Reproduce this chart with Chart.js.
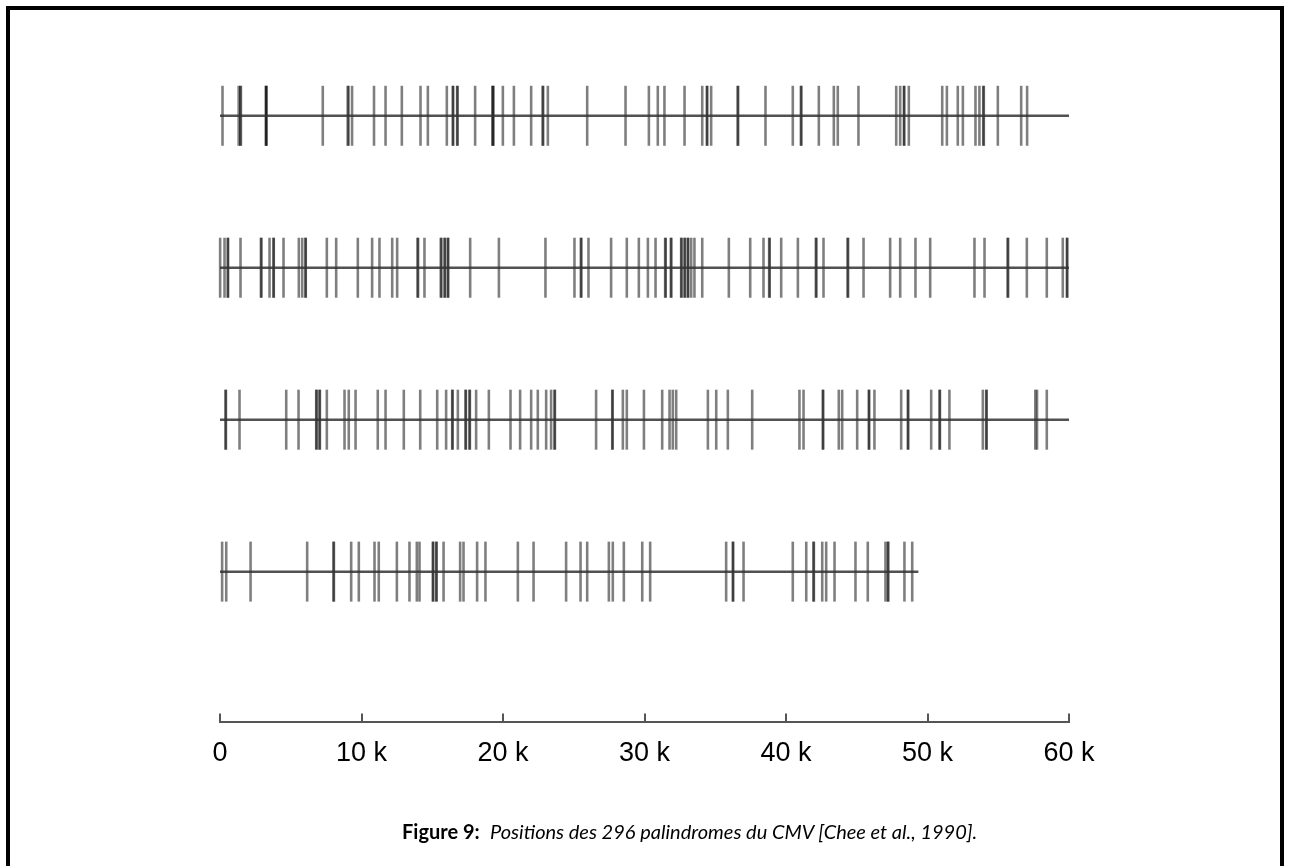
<!DOCTYPE html>
<html>
<head>
<meta charset="utf-8">
<title>Palindromes du CMV</title>
<script src="https://cdn.jsdelivr.net/npm/chart.js@4/dist/chart.umd.min.js"></script>
<style>
  html, body { margin: 0; padding: 0; background: #fff; overflow: hidden; }
  #page { position: relative; width: 1289px; height: 866px; }
  #frame {
    position: absolute; left: 6px; top: 6px; width: 1270px; height: 900px;
    border: 4px solid #000; border-bottom: none;
  }
  #wrap { position: absolute; left: 0; top: 0; width: 1289px; height: 866px; }
  #chart { filter: blur(0.5px); }
  #caption {
    position: absolute; left: 402px; top: 819px; white-space: nowrap;
    font-family: "Lato", "DejaVu Sans", sans-serif; font-size: 20px; color: #000;
  }
  #caption b { font-weight: bold; }
  #caption i { font-style: italic; }
</style>
</head>
<body>
<div id="page">
  <div id="frame"></div>
  <div id="wrap"><canvas id="chart" width="1289" height="866"></canvas></div>
  <div id="caption"><b>Figure 9:</b>&nbsp; <i>Positions des 296 palindromes du CMV [Chee et al., 1990].</i></div>
</div>
<script>
// Genome of the CMV, cut into segments of 60 kb, one segment per row.
const genomeLength = 229354;
const rowStarts = [0, 60000, 120000, 180000];
const tickValues = [0, 10000, 20000, 30000, 40000, 50000, 60000];
const tickLabels = ['0', '10 k', '20 k', '30 k', '40 k', '50 k', '60 k'];

// Palindrome positions (bp) on each segment.
const row1 = [
  177, 1321, 1433, 1477, 3248, 3255, 3286, 7263, 9023, 9084, 9333, 10884,
  11700, 12850, 14170, 14690, 16030, 16450, 16480, 16760, 16790, 18030,
  19250, 19290, 19320, 19990, 20770, 21990, 22800, 22840, 23170, 25950,
  28660, 30310, 30940, 31410, 32830, 34080, 34410, 34430, 34710, 36580,
  36620, 38550, 40480, 41050, 41090, 42320, 43380, 43660, 45120, 47790,
  48070, 48330, 48360, 48680, 51040, 51370, 52140, 52500, 53390, 53670,
  53940, 53980, 54970, 56620, 57040
];
const row2 = [
  60010, 60320, 60550, 60570, 61450, 62890, 62930, 63500, 63780, 63800,
  64490, 65570, 65810, 66040, 66060, 67550, 68210, 69740, 70750, 71270,
  72170, 72520, 73960, 74000, 74450, 75600, 75650, 75870, 75900, 76100,
  76130, 77680, 79710, 83000, 85050, 85500, 85540, 86040, 87640, 88750,
  89600, 90240, 90780, 91460, 91500, 91860, 91900, 92590, 92620, 92830,
  92860, 93060, 93090, 93300, 93530, 94080, 95960, 97470, 98410, 98810,
  98850, 99660, 100840, 102110, 102150, 102650, 104350, 104390, 105480,
  107360, 108070, 109150, 110190, 113320, 114030, 115660, 115700, 117020,
  118430, 119560, 119850, 119880
];
const row3 = [
  120390, 120420, 121380, 124680, 125550, 126800, 126830, 127030, 127060,
  127550, 128800, 129100, 129580, 131150, 131700, 132990, 134150, 135350,
  135980, 136410, 136440, 136810, 137350, 137380, 137630, 137660, 138100,
  139000, 140530, 141210, 141990, 142460, 143050, 143400, 143640, 143670,
  146580, 147720, 147750, 148470, 148750, 149960, 151250, 151770, 152000,
  152240, 154480, 155070, 155890, 157610, 160950, 161240, 162600, 162630,
  163730, 163970, 165030, 165850, 165880, 166250, 168140, 168610, 168640,
  170260, 170850, 170880, 171550, 173910, 174150, 174180, 177620, 177740,
  178430
];
const row4 = [
  180150, 180440, 182160, 186160, 188020, 188050, 189270, 189810, 190920,
  191220, 192500, 193390, 193910, 194100, 195040, 195070, 195280, 195310,
  195800, 196970, 197210, 198170, 198760, 201050, 202160, 204460, 205480,
  205950, 207480, 207760, 208540, 209840, 210400, 215770, 216240, 216270,
  217000, 220480, 221430, 221940, 221970, 222560, 222840, 223430, 224910,
  225780, 227030, 227200, 227230, 228370, 228920
];
const rows = [row1, row2, row3, row4];

const datasets = [];
rows.forEach((positions, r) => {
  const start = rowStarts[r];
  const end = Math.min(60000, genomeLength - start);
  // horizontal strand of the segment
  datasets.push({
    type: 'line',
    data: [{ x: 0, y: r }, { x: end, y: r }],
    borderColor: 'rgba(50,50,50,0.85)',
    borderWidth: 2.5,
    pointRadius: 0,
    clip: false
  });
  // one vertical stroke per palindrome
  datasets.push({
    type: 'scatter',
    data: positions.map(p => ({ x: p - start, y: r })),
    pointStyle: 'line',
    rotation: 90,
    radius: 30,
    borderWidth: 2.6,
    borderColor: 'rgba(0,0,0,0.5)',
    backgroundColor: 'rgba(0,0,0,0.5)',
    clip: false
  });
});

new Chart(document.getElementById('chart'), {
  type: 'scatter',
  data: { datasets },
  options: {
    responsive: false,
    animation: false,
    events: [],
    layout: { padding: { left: 220, right: 220, top: 55, bottom: 72 } },
    plugins: { legend: { display: false }, tooltip: { enabled: false } },
    scales: {
      x: {
        type: 'linear',
        position: 'bottom',
        min: 0,
        max: 60000,
        afterBuildTicks: (scale) => { scale.ticks = tickValues.map(v => ({ value: v })); },
        border: { display: true, color: '#555', width: 2 },
        grid: { drawOnChartArea: false, drawTicks: true, tickLength: -8, color: '#555', lineWidth: 2 },
        ticks: {
          padding: 24,
          color: '#000',
          font: { family: '"Liberation Sans", Arial, sans-serif', size: 27 },
          maxRotation: 0,
          autoSkip: false,
          callback: (value, index) => tickLabels[index]
        }
      },
      y: {
        type: 'linear',
        display: false,
        reverse: true,
        min: -0.4,
        max: 3.987
      }
    }
  }
});
</script>
</body>
</html>
